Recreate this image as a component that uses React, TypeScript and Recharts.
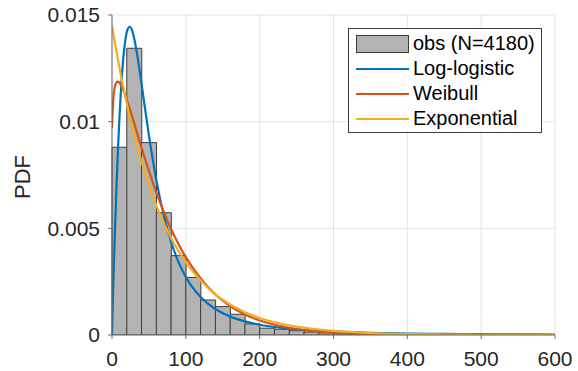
import {
  ComposedChart,
  Bar,
  Line,
  XAxis,
  YAxis,
  CartesianGrid,
  Legend,
} from "recharts"

// MATLAB-ish palette
const C_LOGLOG = "#0072BD"
const C_WEIBULL = "#D95319"
const C_EXP = "#EDB120"
const C_BAR = "#b3b3b3"
const C_EDGE = "#3c3c3c"
const C_AXIS = "#6b6b6b"
const C_GRID = "#e4e4e4"
const C_TEXT = "#262626"
const FONT = "'Liberation Sans', Arial, Helvetica, sans-serif"

// histogram: left edge of each 20-wide bin and its density
const BIN_LEFT = [
  0, 20, 40, 60, 80, 100, 120, 140, 160, 180,
  200, 220, 240, 260, 280, 300, 320, 340, 360, 380,
  400, 420, 440, 460, 480, 500, 520, 540, 560, 580,
]
const OBS_DENSITY = [
  0.0088, 0.01344, 0.00902, 0.00573, 0.00372, 0.0027, 0.00164, 0.00133, 0.00097, 0.00052,
  0.00032, 0.00027, 0.0002, 0.00014, 0.0001, 0.00008, 0.00005, 0.00004, 0.00003, 0.00002,
  0.00002, 0.00001, 0.00001, 0.00001, 0.00001, 0, 0, 0, 0, 0,
]

// fitted pdf curves sampled at FIT_X
const FIT_X = [
  0, 1, 2, 4, 6, 8, 10, 12, 15, 18, 21, 24, 27, 30, 35, 40, 45, 50, 60, 70,
  80, 90, 100, 120, 140, 160, 180, 200, 225, 250, 300, 350, 400, 450, 500, 550, 600,
]
const LOGLOGISTIC = [
  0, 0.00143, 0.00266, 0.00489, 0.00687, 0.00862, 0.01013, 0.0114, 0.01285, 0.0138,
  0.01431, 0.01445, 0.0143, 0.01391, 0.01295, 0.01178, 0.01055, 0.00936, 0.00727, 0.00562,
  0.00437, 0.00343, 0.00272, 0.00178, 0.00122, 0.00087, 0.00064, 0.00048, 0.00035, 0.00026,
  0.000157, 0.000102, 0.00007, 0.00005, 0.000037, 0.000028, 0.000022,
]
const WEIBULL = [
  0.0097, 0.01051, 0.01114, 0.01166, 0.01184, 0.01188, 0.01183, 0.01173, 0.0115, 0.01123,
  0.01093, 0.01061, 0.01027, 0.00993, 0.00935, 0.00878, 0.00823, 0.00769, 0.00668, 0.00578,
  0.00497, 0.00427, 0.00365, 0.00265, 0.0019, 0.00136, 0.00096, 0.00068, 0.00044, 0.00028,
  0.00011, 0.000044, 0.000017, 0.000007, 0.000003, 0.000001, 0,
]
const EXPONENTIAL = [
  0.0145, 0.01429, 0.01409, 0.01368, 0.01329, 0.01291, 0.01254, 0.01218, 0.01167, 0.01117,
  0.01069, 0.01024, 0.0098, 0.00939, 0.00873, 0.00812, 0.00755, 0.00702, 0.00608, 0.00526,
  0.00455, 0.00393, 0.0034, 0.00255, 0.0019, 0.00143, 0.00107, 0.0008, 0.00056, 0.00039,
  0.00019, 0.000091, 0.000044, 0.000021, 0.00001, 0.000005, 0.0000024,
]

const X_TICKS = [0, 100, 200, 300, 400, 500, 600]
const Y_TICKS = [0, 0.005, 0.01, 0.015]

const histData = BIN_LEFT.map((b, i) => ({ bin: b, density: OBS_DENSITY[i] }))
const curve = (ys: number[]) => FIT_X.map((x, i) => ({ x, y: ys[i] }))

const SERIES = [
  { name: "Log-logistic", color: C_LOGLOG, data: curve(LOGLOGISTIC) },
  { name: "Weibull", color: C_WEIBULL, data: curve(WEIBULL) },
  { name: "Exponential", color: C_EXP, data: curve(EXPONENTIAL) },
]

function FitLegend() {
  const row = { display: "flex", alignItems: "center", height: 25 }
  return (
    <div
      style={{
        boxSizing: "border-box",
        width: 194,
        height: 105,
        padding: "2px 0",
        border: `1px solid ${C_EDGE}`,
        background: "#fff",
        fontFamily: FONT,
        fontSize: 20,
        color: "#000",
      }}
    >
      <div style={row}>
        <div
          style={{
            boxSizing: "border-box",
            marginLeft: 7,
            width: 53,
            height: 18,
            background: C_BAR,
            border: `1px solid ${C_EDGE}`,
          }}
        />
        <span style={{ marginLeft: 4 }}>obs (N=4180)</span>
      </div>
      {SERIES.map((s) => (
        <div key={s.name} style={row}>
          <div style={{ marginLeft: 7, width: 53, height: 2, background: s.color }} />
          <span style={{ marginLeft: 4 }}>{s.name}</span>
        </div>
      ))}
    </div>
  )
}

export default function App() {
  const tickStyle = { fontSize: 21, fill: C_TEXT, fontFamily: FONT }
  return (
    <div style={{ position: "absolute", left: 0, top: 0, background: "#fff" }}>
      <ComposedChart
        width={578}
        height={371}
        data={histData}
        margin={{ top: 15, right: 23, bottom: 0, left: 0 }}
        barCategoryGap={0}
        barGap={0}
      >
        <CartesianGrid xAxisId="x" yAxisId="left" stroke={C_GRID} />
        {/* band axis used only to lay the bins edge to edge */}
        <XAxis xAxisId="bins" dataKey="bin" type="category" height={0} hide />
        <XAxis
          xAxisId="x"
          dataKey="x"
          type="number"
          domain={[0, 600]}
          ticks={X_TICKS}
          allowDataOverflow
          height={36}
          tick={tickStyle}
          tickSize={4}
          tickMargin={12}
          axisLine={{ stroke: C_AXIS }}
          tickLine={{ stroke: C_AXIS }}
        />
        <XAxis
          xAxisId="top"
          orientation="top"
          type="number"
          domain={[0, 600]}
          ticks={X_TICKS}
          height={0}
          tick={false}
          tickSize={4}
          axisLine={{ stroke: C_AXIS }}
          tickLine={{ stroke: C_AXIS }}
        />
        <YAxis
          yAxisId="left"
          type="number"
          domain={[0, 0.015]}
          ticks={Y_TICKS}
          allowDataOverflow
          width={112}
          tick={tickStyle}
          tickSize={4}
          tickMargin={8}
          axisLine={{ stroke: C_AXIS }}
          tickLine={{ stroke: C_AXIS }}
          label={{
            content: (props: any) => {
              const vb = props.viewBox ?? { x: 0, y: 15, height: 320 }
              const cx = vb.x + 22
              const cy = vb.y + vb.height / 2 + 2
              return (
                <text
                  x={cx}
                  y={cy}
                  transform={`rotate(-90 ${cx} ${cy})`}
                  textAnchor="middle"
                  dominantBaseline="central"
                  fontSize={22}
                  fontFamily={FONT}
                  fill={C_TEXT}
                >
                  PDF
                </text>
              )
            },
          }}
        />
        <YAxis
          yAxisId="right"
          orientation="right"
          type="number"
          domain={[0, 0.015]}
          ticks={Y_TICKS}
          width={0}
          tick={false}
          tickSize={4}
          axisLine={{ stroke: C_AXIS }}
          tickLine={{ stroke: C_AXIS }}
        />
        <Bar
          xAxisId="bins"
          yAxisId="left"
          dataKey="density"
          fill={C_BAR}
          stroke={C_EDGE}
          strokeWidth={1}
          isAnimationActive={false}
        />
        {SERIES.map((s) => (
          <Line
            key={s.name}
            xAxisId="x"
            yAxisId="left"
            data={s.data}
            dataKey="y"
            type="monotone"
            stroke={s.color}
            strokeWidth={2.2}
            dot={false}
            activeDot={false}
            isAnimationActive={false}
          />
        ))}
        <Legend
          layout="horizontal"
          verticalAlign="middle"
          align="center"
          content={() => <FitLegend />}
          wrapperStyle={{ left: 348, top: 28, width: 194, height: 105 }}
        />
      </ComposedChart>
    </div>
  )
}
